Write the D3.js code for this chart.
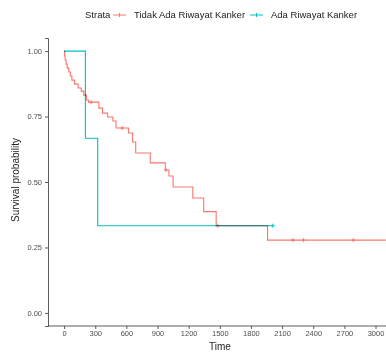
<!DOCTYPE html>
<html>
<head>
    <script src="https://cdn.jsdelivr.net/npm/d3@7/dist/d3.min.js"></script>
    <style>
        html, body {
            padding: 0;
            margin: 0;
            background: #fff;
        }
        text {
            font-family: "Liberation Sans", Arial, sans-serif;
        }
    </style>
</head>
<body>
<script>
    var width = 386, height = 354;

    // strata names and colours
    var strata = ["Tidak Ada Riwayat Kanker", "Ada Riwayat Kanker"];
    var colors = ["#F8766D", "#00BFC4"];

    // red curve: [time, survival after step]
    var noHistTimes = [0, 5, 10, 20, 30, 45, 60, 75, 100, 135, 165, 190, 215, 235, 335, 370, 420, 470, 500,
        620, 660, 690, 830, 975, 1010, 1050, 1240, 1345, 1465, 1960, 3100];
    var noHistSurv = [1, 0.981, 0.966, 0.950, 0.935, 0.920, 0.905, 0.889, 0.874, 0.859, 0.847, 0.832, 0.813, 0.805,
        0.782, 0.763, 0.748, 0.733, 0.706, 0.687, 0.653, 0.611, 0.573, 0.546, 0.523, 0.481, 0.439, 0.387,
        0.333, 0.278, 0.278];
    var noHistCensor = [260, 560, 980, 1480, 2205, 2305, 2785];

    // teal curve
    var histTimes = [0, 205, 324, 2010];
    var histSurv = [1, 0.667, 0.333, 0.333];
    var histCensor = [2010];

    var yTicks = [0, 0.25, 0.5, 0.75, 1];
    var xTicks = [0, 300, 600, 900, 1200, 1500, 1800, 2100, 2400, 2700, 3000];

    var svg = d3.select('body').append('svg')
        .attr('width', width)
        .attr('height', height);

    var x = d3.scaleLinear().domain([-155, 3255]).range([48, 402]);
    var y = d3.scaleLinear().domain([-0.05, 1.05]).range([326, 38]);

    // axes
    var xAxis = svg.append('g')
        .attr('transform', 'translate(0,326)')
        .call(d3.axisBottom(x).tickValues(xTicks).tickSize(3).tickPadding(2).tickFormat(d3.format('d')));
    var yAxis = svg.append('g')
        .attr('transform', 'translate(48,0)')
        .call(d3.axisLeft(y).tickValues(yTicks).tickSize(3).tickPadding(3).tickFormat(d3.format('.2f')));

    [xAxis, yAxis].forEach(function (a) {
        a.select('.domain').attr('stroke', '#333').attr('stroke-width', 0.8);
        a.selectAll('.tick line').attr('stroke', '#333').attr('stroke-width', 0.8);
        a.selectAll('.tick text').attr('fill', '#4d4d4d').style('font-size', '7.5px');
    });
    xAxis.select('.domain').attr('d', 'M48,0H' + width);

    // curves
    var curves = [
        {t: noHistTimes, s: noHistSurv, c: noHistCensor, color: colors[0]},
        {t: histTimes, s: histSurv, c: histCensor, color: colors[1]}
    ];

    var line = d3.line().curve(d3.curveStepAfter)
        .x(function (d) { return x(d[0]); })
        .y(function (d) { return y(d[1]); });

    function survAt(cv, time) {
        var v = 1;
        for (var i = 0; i < cv.t.length; i++) {
            if (cv.t[i] <= time) v = cv.s[i];
        }
        return v;
    }

    curves.forEach(function (cv) {
        var pts = cv.t.map(function (d, i) { return [d, cv.s[i]]; });
        svg.append('path')
            .datum(pts)
            .attr('d', line)
            .attr('fill', 'none')
            .attr('stroke', cv.color)
            .attr('stroke-width', 1.1)
            .style('mix-blend-mode', 'multiply');

        svg.selectAll(null)
            .data(cv.c)
            .enter().append('path')
            .attr('d', function (d) {
                var cx = x(d), cy = y(survAt(cv, d));
                return 'M' + (cx - 2) + ',' + cy + 'H' + (cx + 2) + 'M' + cx + ',' + (cy - 2) + 'V' + (cy + 2);
            })
            .attr('stroke', cv.color)
            .attr('stroke-width', 1);
    });

    // axis titles
    svg.append('text')
        .attr('x', 220).attr('y', 350)
        .attr('text-anchor', 'middle')
        .style('font-size', '10px')
        .attr('fill', '#222')
        .text('Time');

    svg.append('text')
        .attr('transform', 'translate(19,180) rotate(-90)')
        .attr('text-anchor', 'middle')
        .style('font-size', '10px')
        .attr('fill', '#222')
        .text('Survival probability');

    // legend
    var legend = svg.append('g').attr('transform', 'translate(0,15)');
    legend.append('text')
        .attr('x', 85).attr('y', 3.3)
        .style('font-size', '9.5px')
        .attr('fill', '#222')
        .text('Strata');

    var keyX = [113, 250];
    strata.forEach(function (name, i) {
        var kx = keyX[i];
        legend.append('path')
            .attr('d', 'M' + kx + ',0H' + (kx + 13) + 'M' + (kx + 6.5) + ',-2V2')
            .attr('stroke', colors[i])
            .attr('stroke-width', 1);
        legend.append('text')
            .attr('x', kx + 21).attr('y', 3.3)
            .style('font-size', '9.5px')
            .attr('fill', '#222')
            .text(name);
    });
</script>
</body>
</html>
